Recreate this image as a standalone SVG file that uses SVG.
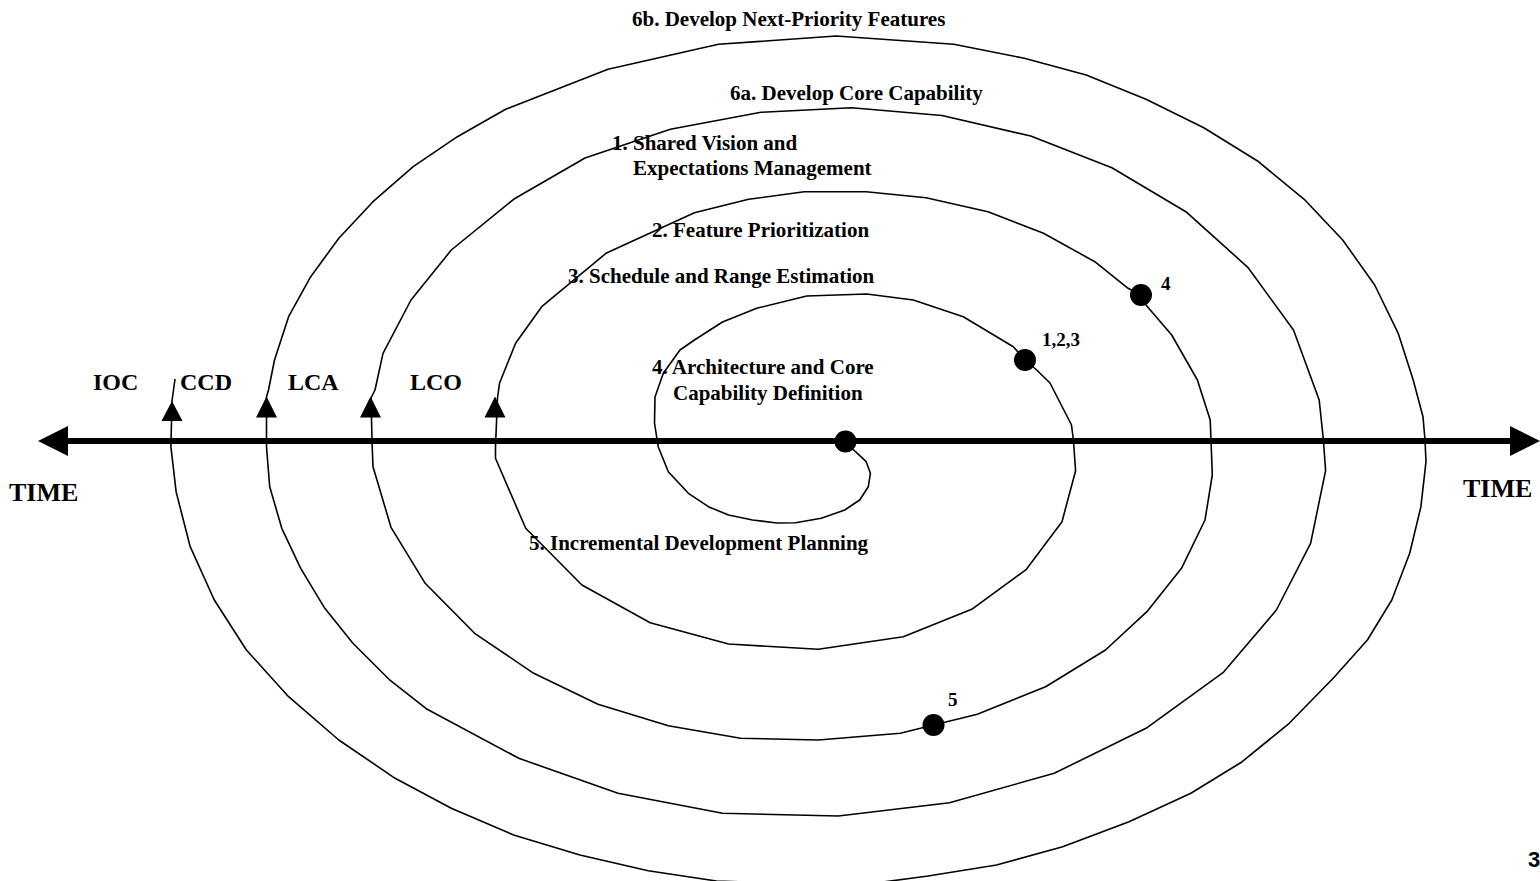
<svg xmlns="http://www.w3.org/2000/svg" width="1540" height="881" viewBox="0 0 1540 881">
  <style>
    .lbl { font-family: "Liberation Serif", "Times New Roman", serif; font-weight: bold; font-size: 21px; fill: #000; }
    .ms { font-family: "Liberation Serif", "Times New Roman", serif; font-weight: bold; font-size: 24px; fill: #000; }
    .time { font-family: "Liberation Serif", "Times New Roman", serif; font-weight: bold; font-size: 26px; fill: #000; }
    .num { font-family: "Liberation Serif", "Times New Roman", serif; font-weight: bold; font-size: 19px; fill: #000; }
    .spiral { fill: none; stroke: #000; stroke-width: 1.6; stroke-linejoin: round; }
    .axis { stroke: #000; stroke-width: 6; }
    .head { fill: #000; }
  </style>
  <rect width="1540" height="881" fill="#fff"/>

  <!-- time axis -->
  <g id="time-axis">
    <line class="axis" x1="66" y1="441" x2="1512" y2="441"/>
    <polygon class="head" points="38,441 68,426 68,456"/>
    <polygon class="head" points="1540,441 1510,426 1510,456"/>
  </g>

  <!-- the spiral, one continuous polyline from the centre outward -->
  <g id="connectors">
    <path id="spiral" class="spiral" d="M845,441 L855.5,451.7 866.2,461.7 870.4,473.3 868.3,486.7 859.7,500 844.8,510 821.3,518.3 795.6,522.7 776.7,523 752.6,520 728.5,515 708.4,506.7 688.4,493.3 668.3,471.7 658.2,446.7 654.5,423 655,397 663.3,373.3 680,350 694.4,340 722.5,322 756.7,308.3 806.7,296 866.7,294 913.3,300 963.3,316.7 1013.3,346.7 1025,360 1036.7,370 1050,383 1071.5,425 1073.4,440 1075.6,470.7 1062,521.7 1026.4,569.3 971.7,609.3 903.3,636.7 818.3,649.3 728.5,644 650.2,622.7 581.9,585 525.7,528.3 495.5,458.3 495.5,446.7 497.5,398 499.5,383.3 515.6,343.3 541.7,306.7 606,253.3 694.4,212.7 748.6,199.3 804.2,191.7 866.2,191.7 926,197.7 988,211.7 1043.5,233.3 1094.8,261.7 1128.1,288.3 1141,295 1146,305 1171.7,335 1197.4,380 1210.2,420 1211,440 1212.3,475 1205,520 1181.5,568.3 1146.9,611.7 1105.5,650 1045.6,686.7 977.3,714.3 933.7,725 900.3,733.3 818.3,740 740.6,738.3 668.3,725.7 598,704.3 533.7,673.3 474.6,633.3 425.2,583.3 391,527.3 373,466.7 372.2,446.7 371,398 375,390 383,353.3 411,300 451.3,250 513.6,199.3 585,158 670.3,129.3 761,112.3 851.5,107.8 942,115.5 1030.7,136 1111.9,167.7 1186.7,212.3 1247.8,267.3 1293.5,330 1319.2,400 1323.4,440 1325.6,470.7 1310.6,543.3 1276.4,610 1223,672.7 1146,728.3 1054.2,773.3 949.5,802.7 838.4,816 722.5,813.3 618,793.3 518.8,758.3 427.2,709.3 389,679.3 352.9,643.3 324.8,608.3 300.7,568.3 281.8,528.3 269.7,486.7 266.5,446.7 266.5,396.7 268.5,390 274.5,360 288.6,316.7 310.7,276.7 338.8,238.3 373,201.7 413.2,166.7 457.4,136.7 505.6,109.3 608,69.3 718.5,44.3 836.2,36 953.8,44.3 1024.3,58.3 1086.2,75 1146,99.3 1203.8,127.7 1257.2,160.7 1304.2,199.3 1342.7,240 1374.7,285 1398.2,333.3 1413.2,380 1423,416.7 1425,440 1426,461.7 1420.9,506.7 1409.7,553.3 1391.8,600 1367.4,640 1333.2,678.3 1289.2,723.3 1242.2,761.7 1190.9,793.3 1129,821.7 1062.7,846.7 996.5,865 928.1,876 883,882 800,884 716.5,881 648.2,870.7 579.9,855 513.6,835 451.3,808.3 395.1,778.3 338.8,740 288.6,696.7 246.4,650 214.3,600 190.2,546.7 176.1,491.7 170.9,446.7 172,401 175,379"/>
  </g>

  <!-- milestone arrowheads where the spiral crosses the axis -->
  <g id="milestone-ioc-ccd"><polygon class="head" points="172,401 161.5,421 182.5,421"/></g>
  <g id="milestone-lca"><polygon class="head" points="266.5,396.5 256,417.5 277,417.5"/></g>
  <g id="milestone-lco"><polygon class="head" points="370.5,396.5 360,417.5 381,417.5"/></g>
  <g id="milestone-inner"><polygon class="head" points="495,396.5 484.5,417.5 505.5,417.5"/></g>

  <!-- activity points on the spiral -->
  <g id="point-start"><circle cx="845.5" cy="441.5" r="11"/></g>
  <g id="point-123"><circle cx="1025" cy="360" r="11"/><text class="num" x="1042" y="346">1,2,3</text></g>
  <g id="point-4"><circle cx="1141" cy="295" r="11"/><text class="num" x="1161" y="290">4</text></g>
  <g id="point-5"><circle cx="933.5" cy="725" r="11"/><text class="num" x="948" y="706">5</text></g>

  <!-- phase labels -->
  <g id="labels">
    <text class="lbl" x="632" y="26">6b. Develop Next-Priority Features</text>
    <text class="lbl" x="730" y="100">6a. Develop Core Capability</text>
    <text class="lbl" x="612" y="150">1. Shared Vision and</text>
    <text class="lbl" x="633" y="175">Expectations Management</text>
    <text class="lbl" x="652" y="237">2. Feature Prioritization</text>
    <text class="lbl" x="568" y="283">3. Schedule and Range Estimation</text>
    <text class="lbl" x="652" y="374">4. Architecture and Core</text>
    <text class="lbl" x="673" y="400">Capability Definition</text>
    <text class="lbl" x="529" y="550">5. Incremental Development Planning</text>
  </g>

  <g id="milestone-labels">
    <text class="ms" x="93" y="390">IOC</text>
    <text class="ms" x="180" y="390">CCD</text>
    <text class="ms" x="288" y="390">LCA</text>
    <text class="ms" x="410" y="390">LCO</text>
    <text class="time" x="9" y="501">TIME</text>
    <text class="time" x="1463" y="497">TIME</text>
  </g>

  <text x="1528" y="867" font-family="Liberation Sans, Arial, sans-serif" font-weight="bold" font-size="22">3</text>
</svg>
